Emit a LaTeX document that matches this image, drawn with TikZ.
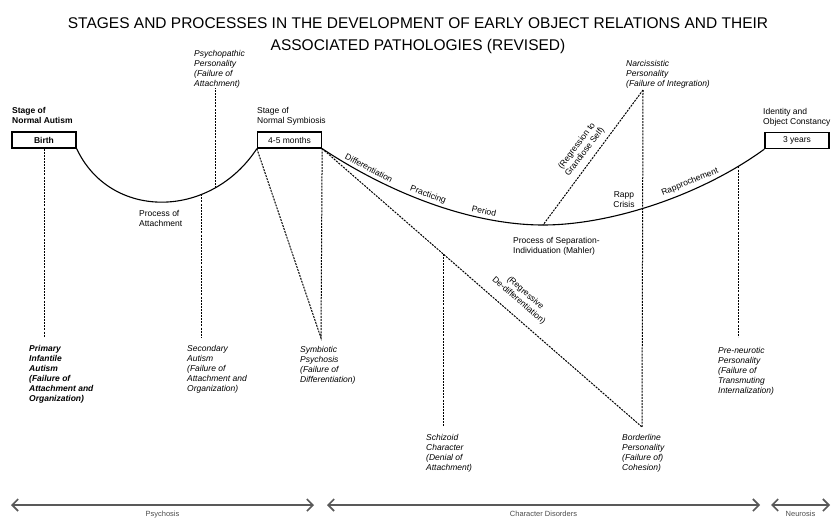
\documentclass[tikz,border=0pt]{standalone}
\usepackage{fontspec}
\setmainfont{Liberation Sans}
\usetikzlibrary{arrows.meta,calc}

\tikzset{
  stagebox/.style={draw, line width=1.3pt, minimum width=64pt, minimum height=16pt, inner sep=0pt, font=\fontsize{8.5}{10}\selectfont},
  lbl/.style={inner sep=0pt, align=left, font=\fontsize{8.5}{10}\selectfont},
  patho/.style={lbl, anchor=north west, font=\fontsize{8.5}{10}\selectfont\itshape},
  dotline/.style={line width=1pt, dash pattern=on 2pt off 1.1pt},
  curveline/.style={line width=1.1pt},
  band/.style={line width=1.6pt, gray!70!black, {Straight Barb[length=6pt,width=12pt]}-{Straight Barb[length=6pt,width=12pt]}},
  bandlbl/.style={inner sep=0pt, below=5pt, text=gray!60!black, font=\fontsize{7.5}{8}\selectfont},
}

\begin{document}
\begin{tikzpicture}[x=1pt, y=-1pt]
    \useasboundingbox (0,0) rectangle (837,522);

    \node[align=center, font=\fontsize{15.5}{22}\selectfont] (title) at (418,36)
        {STAGES AND PROCESSES IN THE DEVELOPMENT OF EARLY OBJECT RELATIONS AND THEIR\\ASSOCIATED PATHOLOGIES (REVISED)};

    % Stages
    \node[stagebox, font=\fontsize{8.5}{10}\selectfont\bfseries] (birth) at (44,140) {Birth};
    \node[stagebox] (sym) at (289.5,140) {4-5 months};
    \node[stagebox] (years) at (797,140.5) {3 years};

    \node[lbl, anchor=north west, font=\fontsize{8.5}{10}\selectfont\bfseries] (autlbl) at (12,107) {Stage of\\Normal Autism};
    \node[lbl, anchor=north west] (symlbl) at (257,107) {Stage of\\Normal Symbiosis};
    \node[lbl, anchor=north west] (idlbl) at (763,108) {Identity and\\Object Constancy};

    % Processes
    \draw[curveline] (birth.south east) .. controls (110,220) and (210,220) .. (sym.south west)
        coordinate[pos=0.692] (att1) coordinate[pos=0.757] (att2);
    \draw[curveline] (sym.south east) .. controls (400,200) and (480,225) .. (543,225) coordinate (sep)
        .. controls (610,225) and (700,196) .. (years.south west) coordinate[pos=0.87] (pren);

    \node[lbl, anchor=north west] (attlbl) at (139,210) {Process of\\Attachment};
    \node[lbl, anchor=north west] (seplbl) at (513,237) {Process of Separation-\\Individuation (Mahler)};
    \node[lbl, rotate=-28] (diff) at (369,168) {Differentiation};
    \node[lbl, rotate=-20] (prac) at (428,195) {Practicing};
    \node[lbl, rotate=-12] (per) at (484,211) {Period};
    \node[lbl, align=center] (crisis) at (624,200) {Rapp\\Crisis};
    \node[lbl, rotate=22] (rapp) at (690,182) {Rapprochement};

    % Pathologies
    \node[patho] (psy) at (194,50) {Psychopathic\\Personality\\(Failure of\\Attachment)};
    \node[patho] (narc) at (626,60) {Narcissistic\\Personality\\(Failure of Integration)};
    \node[patho, font=\fontsize{8.5}{10}\selectfont\bfseries\itshape] (prim) at (29,345) {Primary\\Infantile\\Autism\\(Failure of\\Attachment and\\Organization)};
    \node[patho] (sec) at (187,345) {Secondary\\Autism\\(Failure of\\Attachment and\\Organization)};
    \node[patho] (symp) at (300,346) {Symbiotic\\Psychosis\\(Failure of\\Differentiation)};
    \node[patho] (schiz) at (426,434) {Schizoid\\Character\\(Denial of\\Attachment)};
    \node[patho] (bord) at (622,434) {Borderline\\Personality\\(Failure of)\\Cohesion)};
    \node[patho] (preneu) at (718,347) {Pre-neurotic\\Personality\\(Failure of\\Transmuting\\Internalization)};

    \coordinate (psyb) at (215,88);
    \coordinate (narcpt) at (643,90);
    \coordinate (primt) at (44,337);
    \coordinate (sympt) at (321,338);
    \coordinate (bordpt) at (642,427);
    \coordinate (schpt) at (443,427);
    \coordinate (prept) at (739,337);

    \draw[dotline] (sym.south east) -- (bordpt) coordinate[pos=0.378] (dd);
    \draw[dotline] (sym.south west) -- (sympt) -- (sym.south east);
    \draw[dotline] (narcpt) -- (sep);
    \draw[dotline] (narcpt) -- (bordpt);
    \draw[dotline] (birth) -- (primt);
    \draw[dotline] (att1) -- (att1 |- primt);
    \draw[dotline] (att2) -- (att2 |- psyb);
    \draw[dotline] (dd) -- (dd |- schpt);
    \draw[dotline] (pren) -- (pren |- prept);

    \node[lbl, rotate=53, align=center] (regr) at (581,149) {(Regression to\\Grandiose Self)};
    \node[lbl, rotate=-41, align=center] (dediff) at (522,297) {(Regressive\\De-differentiation)};

    % Ranges
    \coordinate (ps1) at (11,505); \coordinate (ps2) at (314,505);
    \coordinate (cd1) at (327,505); \coordinate (cd2) at (760,505);
    \coordinate (ne1) at (771,505); \coordinate (ne2) at (830,505);
    \draw[band] (ps1) -- (ps2) node[bandlbl, midway] (psylbl) {Psychosis};
    \draw[band] (cd1) -- (cd2) node[bandlbl, pos=0.5] (cdlbl) {Character Disorders};
    \draw[band] (ne1) -- (ne2) node[bandlbl, midway] (neulbl) {Neurosis};
\end{tikzpicture}
\end{document}
